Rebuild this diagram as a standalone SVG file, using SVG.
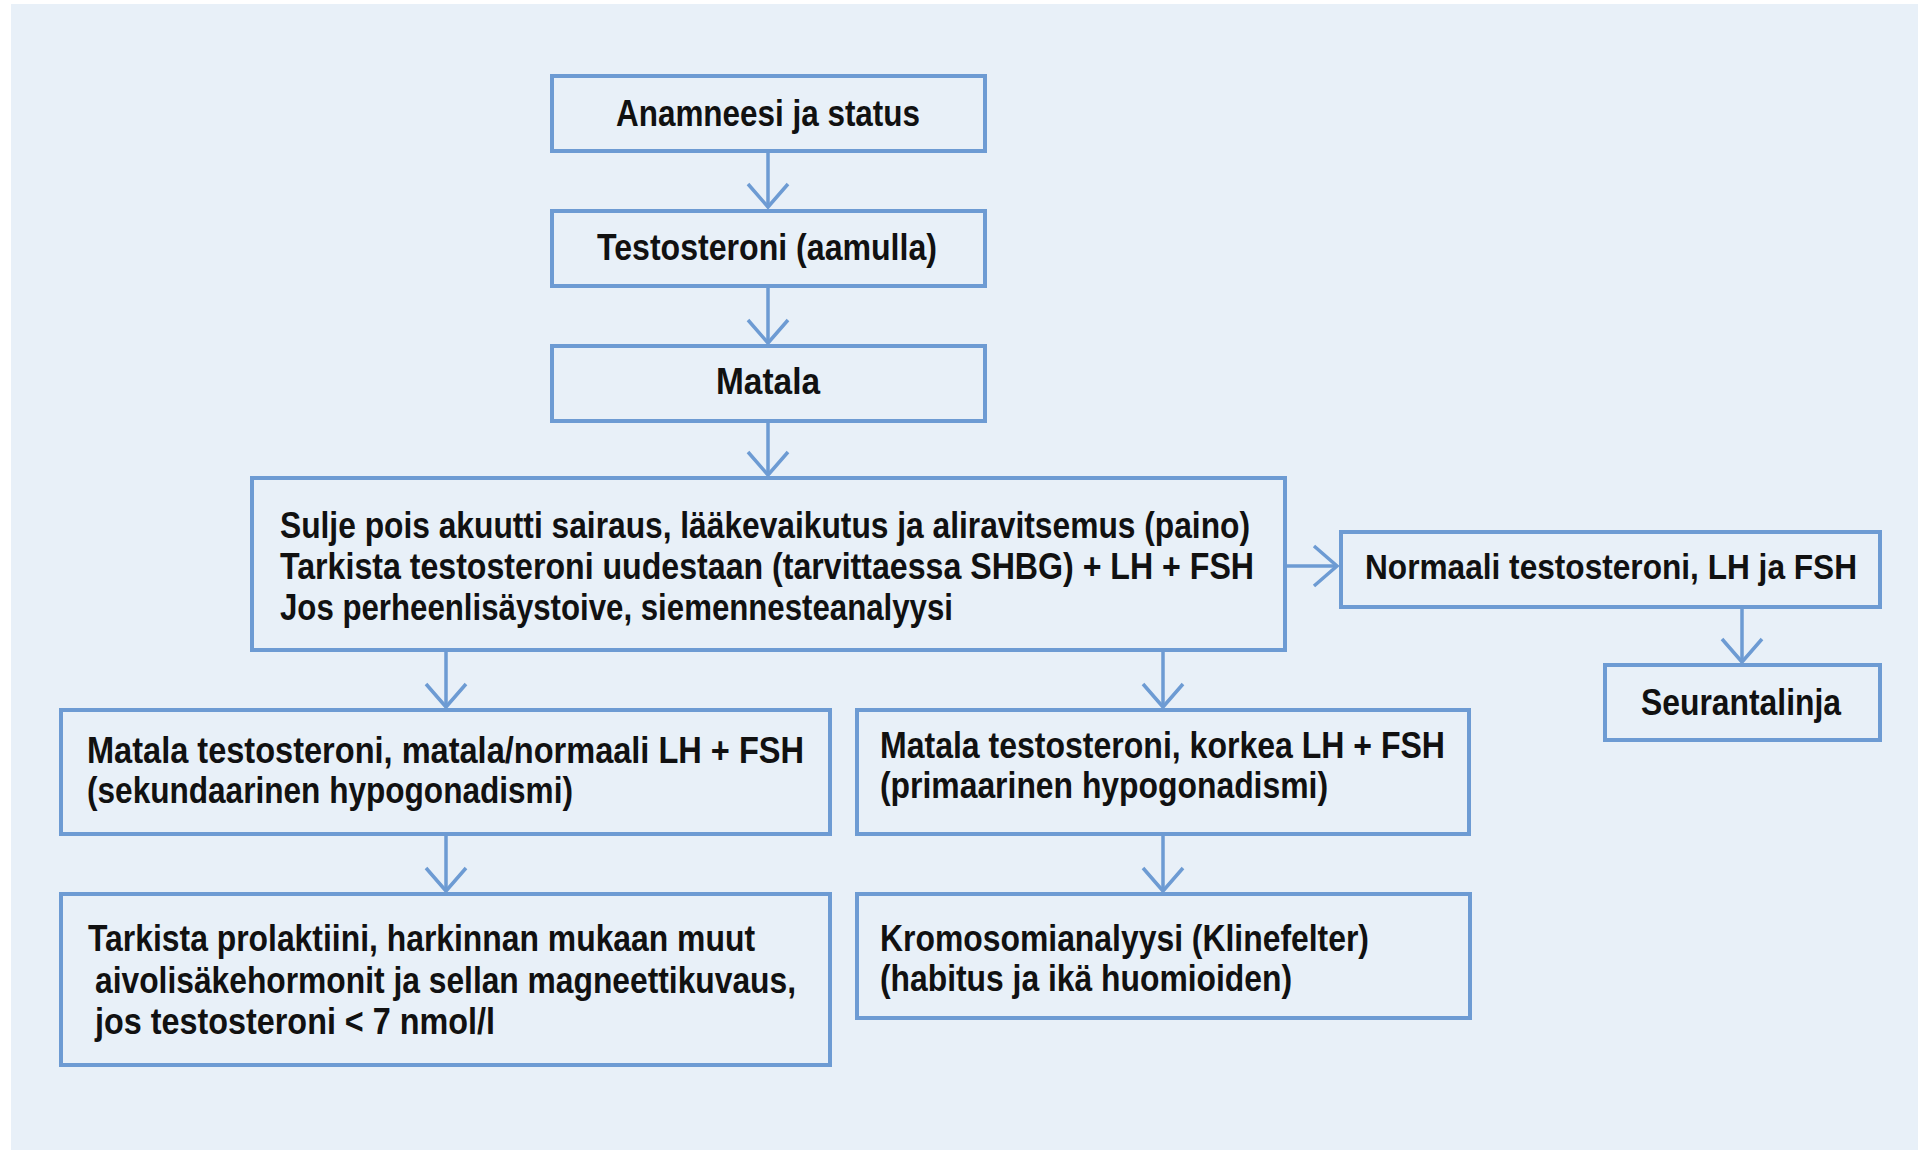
<svg xmlns="http://www.w3.org/2000/svg" width="1918" height="1150" viewBox="0 0 1918 1150">
<style>
.box{fill:none;stroke:#6d9bd3;stroke-width:4}
.t{font-family:"Liberation Sans",Arial,sans-serif;font-weight:bold;font-size:36px;fill:#111}
.ln{fill:none;stroke:#6d9bd3;stroke-width:3.5}
</style>
<defs>
<marker id="chev" markerUnits="userSpaceOnUse" markerWidth="40" markerHeight="50" viewBox="-30 -25 34 50" refX="0" refY="0" orient="auto" overflow="visible">
<path d="M-23,-20 L0,0 L-23,20" fill="none" stroke="#6d9bd3" stroke-width="3.5"/>
</marker>
</defs>
<rect x="0" y="0" width="1918" height="1150" fill="#ffffff"/>
<rect x="11" y="4" width="1907" height="1146" fill="#e8f0f8"/>
<g id="connectors">
<line class="ln" x1="768" y1="152" x2="768" y2="207" marker-end="url(#chev)"/>
<line class="ln" x1="768" y1="288" x2="768" y2="343" marker-end="url(#chev)"/>
<line class="ln" x1="768" y1="422" x2="768" y2="475" marker-end="url(#chev)"/>
<line class="ln" x1="1286" y1="566" x2="1337" y2="566" marker-end="url(#chev)"/>
<line class="ln" x1="1742" y1="609" x2="1742" y2="662" marker-end="url(#chev)"/>
<line class="ln" x1="446" y1="652" x2="446" y2="707" marker-end="url(#chev)"/>
<line class="ln" x1="1163" y1="652" x2="1163" y2="707" marker-end="url(#chev)"/>
<line class="ln" x1="446" y1="836" x2="446" y2="891" marker-end="url(#chev)"/>
<line class="ln" x1="1163" y1="836" x2="1163" y2="891" marker-end="url(#chev)"/>
</g>
<g id="n1"><rect class="box" x="552" y="76" width="433" height="75"/><text class="t" x="616" y="126" textLength="304" lengthAdjust="spacingAndGlyphs">Anamneesi ja status</text></g>
<g id="n2"><rect class="box" x="552" y="211" width="433" height="75"/><text class="t" x="597" y="260" textLength="340" lengthAdjust="spacingAndGlyphs">Testosteroni (aamulla)</text></g>
<g id="n3"><rect class="box" x="552" y="346" width="433" height="75"/><text class="t" x="716" y="394" textLength="104" lengthAdjust="spacingAndGlyphs">Matala</text></g>
<g id="n4"><rect class="box" x="252" y="478" width="1033" height="172"/>
<text class="t" x="280" y="538" textLength="970" lengthAdjust="spacingAndGlyphs">Sulje pois akuutti sairaus, lääkevaikutus ja aliravitsemus (paino)</text>
<text class="t" x="280" y="579" textLength="974" lengthAdjust="spacingAndGlyphs">Tarkista testosteroni uudestaan (tarvittaessa SHBG) + LH + FSH</text>
<text class="t" x="280" y="620" textLength="673" lengthAdjust="spacingAndGlyphs">Jos perheenlisäystoive, siemennesteanalyysi</text>
</g>
<g id="n5"><rect class="box" x="1341" y="532" width="539" height="75"/><text class="t" transform="translate(1365,579) scale(0.82,1)" x="0" y="0" textLength="600" lengthAdjust="spacingAndGlyphs">Normaali testosteroni, LH ja FSH</text></g>
<g id="n6"><rect class="box" x="1605" y="665" width="275" height="75"/><text class="t" x="1641" y="715" textLength="200" lengthAdjust="spacingAndGlyphs">Seurantalinja</text></g>
<g id="n7"><rect class="box" x="61" y="710" width="769" height="124"/>
<text class="t" x="87" y="763" textLength="717" lengthAdjust="spacingAndGlyphs">Matala testosteroni, matala/normaali LH + FSH</text>
<text class="t" x="87" y="803" textLength="486" lengthAdjust="spacingAndGlyphs">(sekundaarinen hypogonadismi)</text>
</g>
<g id="n8"><rect class="box" x="61" y="894" width="769" height="171"/>
<text class="t" x="88" y="951" textLength="667" lengthAdjust="spacingAndGlyphs">Tarkista prolaktiini, harkinnan mukaan muut</text>
<text class="t" x="95" y="993" textLength="701" lengthAdjust="spacingAndGlyphs">aivolisäkehormonit ja sellan magneettikuvaus,</text>
<text class="t" x="95" y="1034" textLength="400" lengthAdjust="spacingAndGlyphs">jos testosteroni &lt; 7 nmol/l</text>
</g>
<g id="n9"><rect class="box" x="857" y="710" width="612" height="124"/>
<text class="t" x="880" y="758" textLength="565" lengthAdjust="spacingAndGlyphs">Matala testosteroni, korkea LH + FSH</text>
<text class="t" x="880" y="798" textLength="448" lengthAdjust="spacingAndGlyphs">(primaarinen hypogonadismi)</text>
</g>
<g id="n10"><rect class="box" x="857" y="894" width="613" height="124"/>
<text class="t" x="880" y="951" textLength="489" lengthAdjust="spacingAndGlyphs">Kromosomianalyysi (Klinefelter)</text>
<text class="t" x="880" y="991" textLength="412" lengthAdjust="spacingAndGlyphs">(habitus ja ikä huomioiden)</text>
</g>
</svg>
